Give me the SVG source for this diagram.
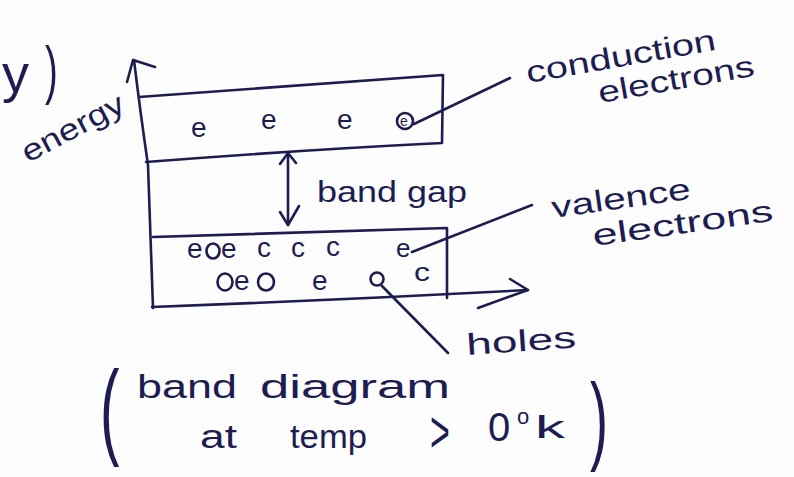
<svg xmlns="http://www.w3.org/2000/svg" width="794" height="477" viewBox="0 0 794 477">
  <defs>
    <style>
      .ink { fill: none; stroke: #1d1d52; stroke-width: 2.6; stroke-linecap: round; stroke-linejoin: round; }
      .hand { font-family: "Liberation Sans", "DejaVu Sans", sans-serif; fill: #1d1d52; }
      .lbl { font-size: 30px; }
      .sym { font-size: 28px; }
      .sym2 { font-size: 26px; }
      .cap { font-size: 34px; }
    </style>
  </defs>

  <rect width="794" height="477" fill="#fdfdfd"/>

  <!-- fragment of the previous line on the page -->
  <g id="page-fragment">
    <text class="hand" x="2" y="92" font-size="54">y</text>
    <text class="hand" x="45" y="92" font-size="64" transform="translate(45 0) scale(0.6 1) translate(-45 0)">)</text>
  </g>

  <!-- energy axis -->
  <g id="energy-axis">
    <path class="ink" d="M134,60 Q140,110 148,165 L153,308"/>
    <path class="ink" d="M127,82 L133,60 L155,67"/>
    <text class="hand lbl" x="28" y="163" textLength="112" lengthAdjust="spacingAndGlyphs" transform="rotate(-28 28 163)">energy</text>
  </g>

  <!-- horizontal axis along the bottom of the valence band -->
  <g id="x-axis">
    <path class="ink" d="M510,279 L528,290 L478,308"/>
  </g>

  <!-- conduction band -->
  <g id="conduction-band">
    <path class="ink" d="M139,97 Q300,85 443,75 L442,143 Q300,150 146,162"/>
    <text class="hand sym" x="191" y="137">e</text>
    <text class="hand sym" x="261" y="129">e</text>
    <text class="hand sym" x="337" y="129">e</text>
    <circle class="ink" cx="405" cy="121" r="8"/>
    <text class="hand" x="400" y="126" font-size="14">e</text>
  </g>

  <!-- band gap -->
  <g id="band-gap">
    <path class="ink" d="M288,154 L288,225"/>
    <path class="ink" d="M280,164 L288,153 L296,163"/>
    <path class="ink" d="M280,212 L288,225 L299,206"/>
    <text class="hand lbl" x="317" y="202" textLength="150" lengthAdjust="spacingAndGlyphs">band gap</text>
  </g>

  <!-- valence band -->
  <g id="valence-band">
    <path class="ink" d="M153,237 L447,228 L447,298"/>
    <path class="ink" d="M152,307 Q340,300 528,290"/>
    <!-- top row -->
    <text class="hand sym" x="187" y="258">e</text>
    <ellipse class="ink" cx="213" cy="251" rx="6.5" ry="7.5"/>
    <text class="hand sym" x="221" y="258">e</text>
    <text class="hand sym" x="257" y="257">c</text>
    <text class="hand sym" x="291" y="257">c</text>
    <text class="hand sym" x="326" y="256">c</text>
    <text class="hand sym2" x="396" y="257">e</text>
    <!-- bottom row -->
    <ellipse class="ink" cx="225" cy="282" rx="7.5" ry="8.5"/>
    <text class="hand sym" x="234" y="290">e</text>
    <ellipse class="ink" cx="266" cy="282" rx="8" ry="8.5"/>
    <text class="hand sym" x="312" y="290">e</text>
    <circle class="ink" cx="377" cy="279" r="6.5"/>
    <text class="hand sym2" x="414" y="281" textLength="16" lengthAdjust="spacingAndGlyphs">c</text>
  </g>

  <!-- labels -->
  <g id="conduction-label">
    <text class="hand lbl" x="528" y="83" textLength="192" lengthAdjust="spacingAndGlyphs" transform="rotate(-10 528 83)">conduction</text>
    <text class="hand lbl" x="600" y="103" textLength="158" lengthAdjust="spacingAndGlyphs" transform="rotate(-10 600 103)">electrons</text>
  </g>

  <g id="valence-label">
    <text class="hand lbl" x="553" y="218" textLength="140" lengthAdjust="spacingAndGlyphs" transform="rotate(-8 553 218)">valence</text>
    <text class="hand lbl" x="594" y="246" textLength="182" lengthAdjust="spacingAndGlyphs" transform="rotate(-8 594 246)">electrons</text>
  </g>

  <g id="holes-label">
    <text class="hand lbl" x="467" y="355" textLength="110" lengthAdjust="spacingAndGlyphs" transform="rotate(-4 467 355)">holes</text>
  </g>

  <!-- leader lines -->
  <g id="connectors">
    <path class="ink" d="M414,124 L510,78"/>
    <path class="ink" d="M412,252 L532,205"/>
    <path class="ink" d="M382,286 L448,353"/>
  </g>

  <!-- caption -->
  <g id="caption">
    <text class="hand" x="100" y="445" font-size="106" transform="translate(100 0) scale(0.55 1) translate(-100 0)">(</text>
    <text class="hand cap" x="137" y="398" textLength="100" lengthAdjust="spacingAndGlyphs">band</text>
    <text class="hand cap" x="260" y="398" textLength="190" lengthAdjust="spacingAndGlyphs">diagram</text>
    <text class="hand cap" x="200" y="448" textLength="37" lengthAdjust="spacingAndGlyphs">at</text>
    <text class="hand cap" x="290" y="448" textLength="77" lengthAdjust="spacingAndGlyphs">temp</text>
    <text class="hand" x="430" y="452" font-size="40" transform="translate(430 452) scale(0.85 1.5) translate(-430 -452)">&gt;</text>
    <text class="hand" x="488" y="441" font-size="40">0</text>
    <text class="hand" x="517" y="424" font-size="22">o</text>
    <text class="hand" x="535" y="438" font-size="32" textLength="30" lengthAdjust="spacingAndGlyphs">k</text>
    <text class="hand" x="590" y="452" font-size="98" transform="translate(590 0) scale(0.55 1) translate(-590 0)">)</text>
  </g>
</svg>
